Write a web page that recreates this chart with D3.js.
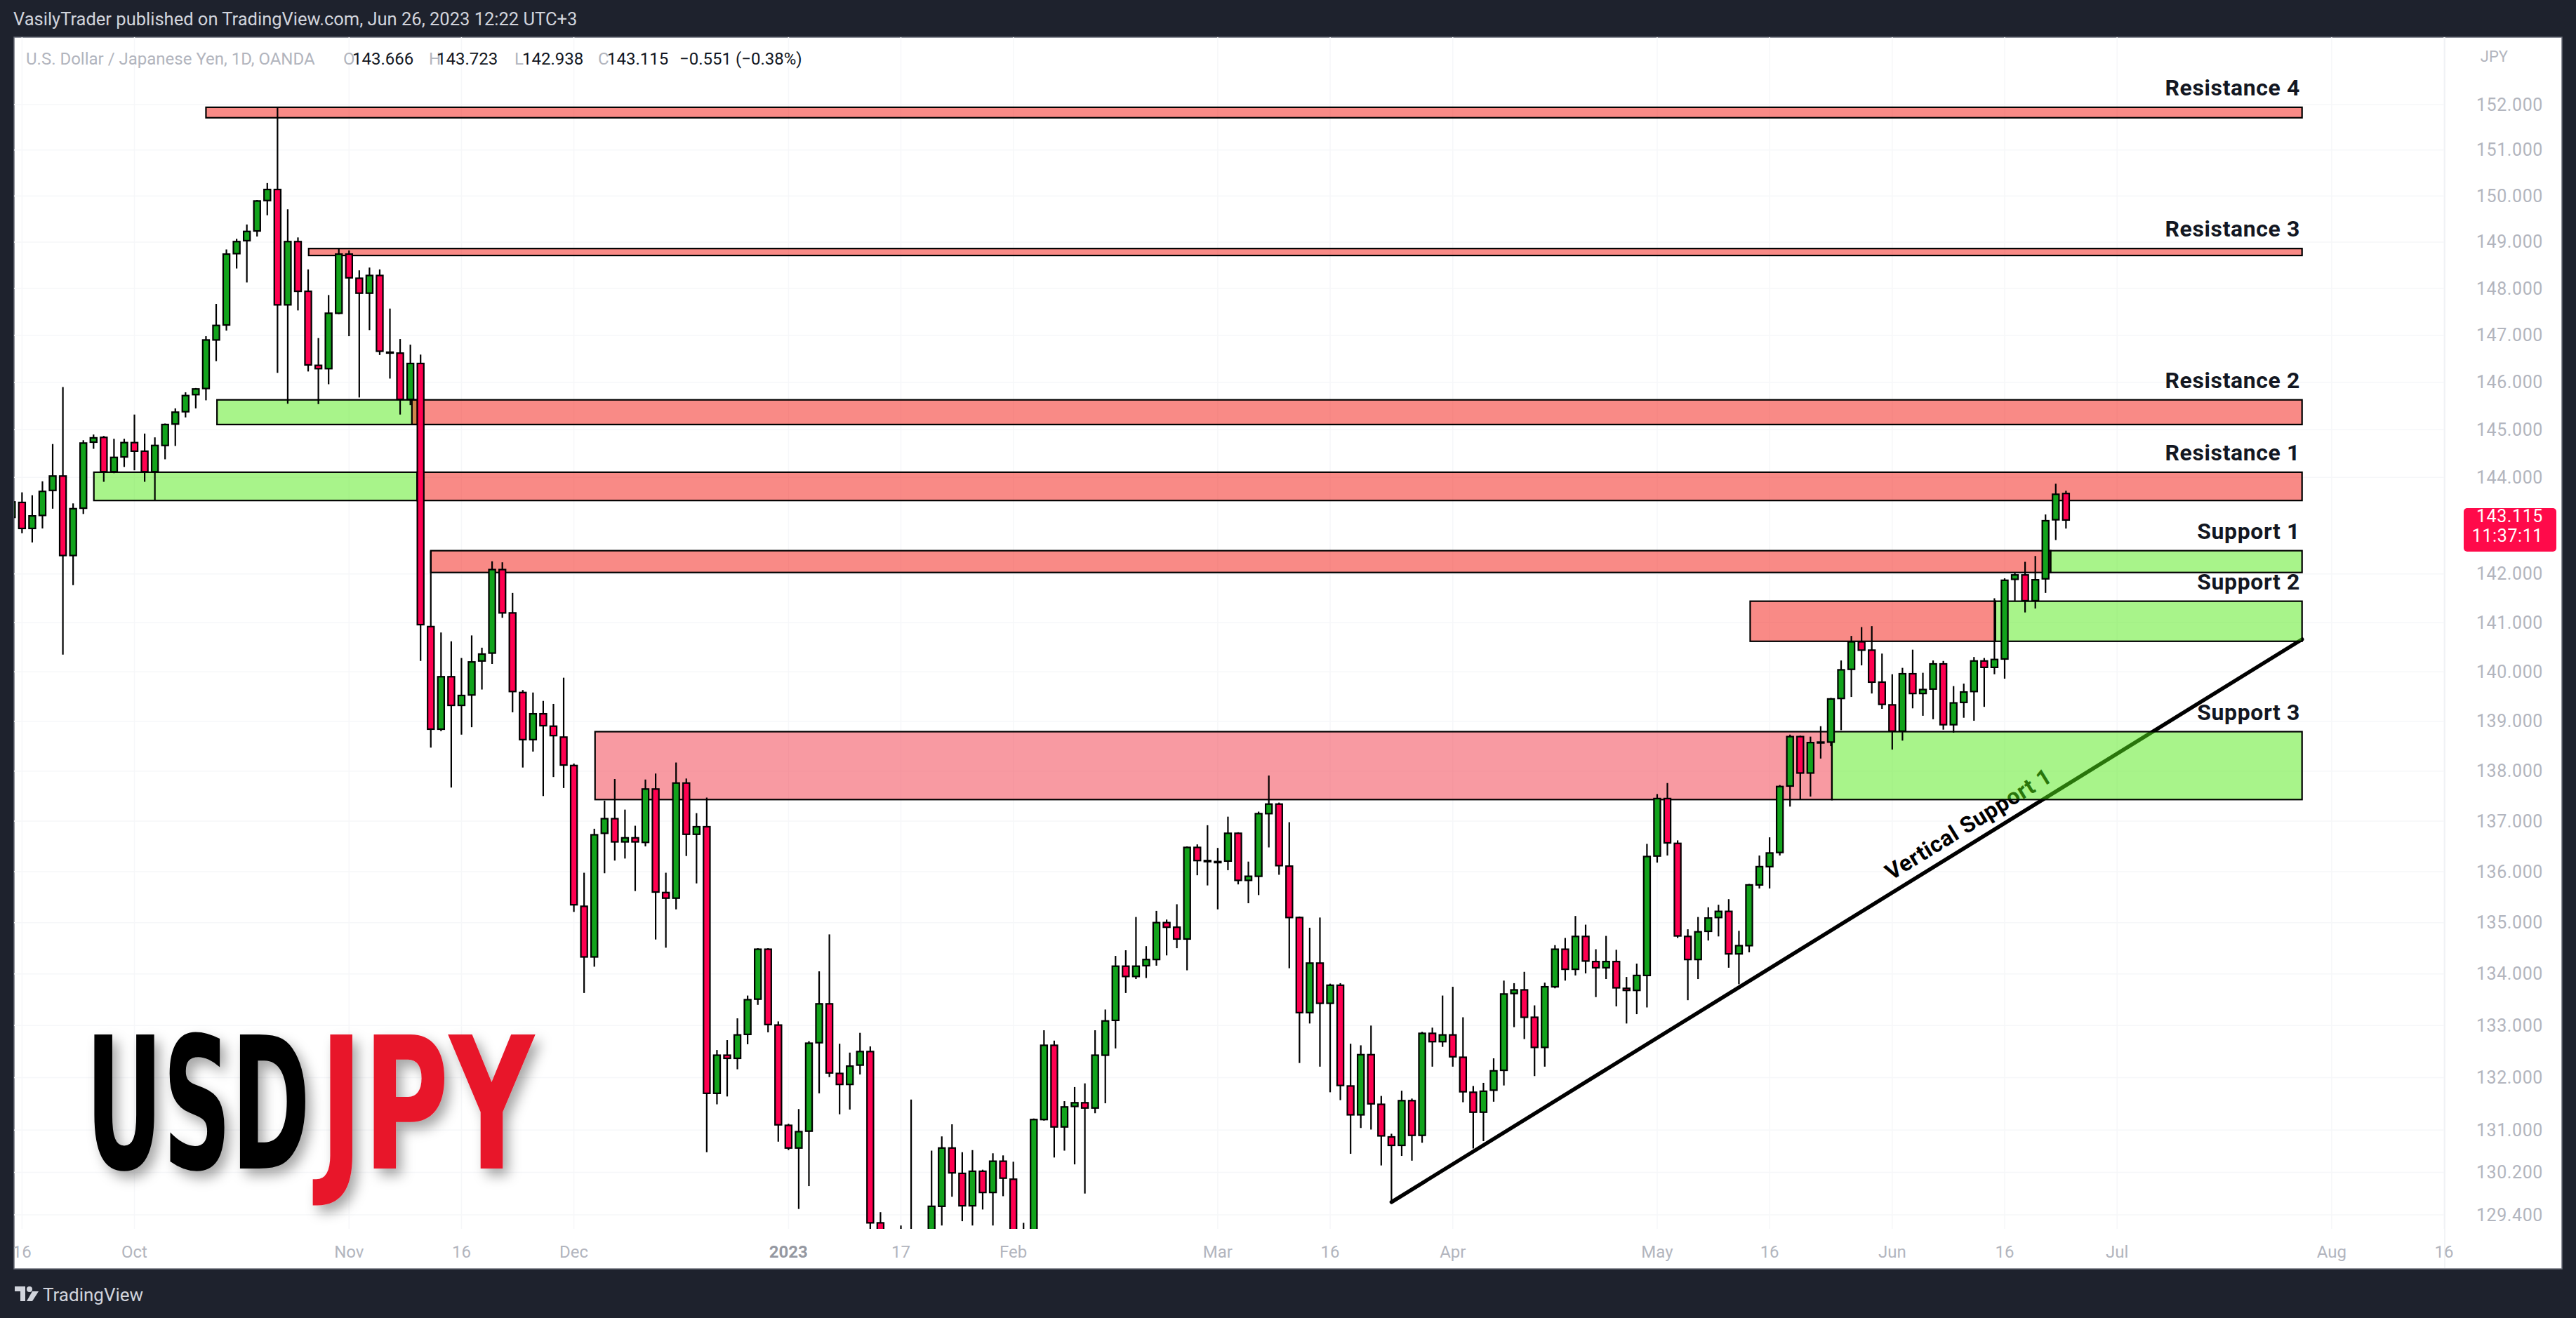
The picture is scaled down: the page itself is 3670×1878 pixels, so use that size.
<!DOCTYPE html>
<html><head><meta charset="utf-8">
<script src="https://cdn.jsdelivr.net/npm/d3@7"></script>
<style>body{margin:0;background:#1e222d;} svg{display:block}</style>
</head><body><svg id="c" width="3670" height="1878"></svg>
<script>
// ---------------- DATA ----------------
const calendarStart = "2022-09-15", calendarEnd = "2023-08-31";
const missingDays = ["2022-12-26"];
const opens = [143.17,143.48,142.94,143.21,143.73,144.03,142.38,143.36,144.74,144.84,144.12,144.43,144.73,144.55,144.12,144.67,145.12,145.38,145.74,145.87,146.90,147.22,148.75,149.03,149.24,149.90,150.14,147.65,149.01,147.94,146.36,146.29,147.47,148.74,148.22,147.90,148.28,146.64,146.62,145.64,146.40,140.92,138.84,139.90,139.32,139.53,140.22,140.38,142.09,141.20,139.58,138.63,139.15,138.90,138.68,138.11,135.32,134.33,136.76,137.05,136.59,136.67,136.58,137.64,135.59,135.48,137.76,136.74,136.89,131.70,132.43,132.37,132.83,133.51,134.48,133.01,131.09,130.66,130.98,132.67,133.42,132.08,131.87,132.24,132.50,129.25,127.90,128.55,128.60,128.90,128.40,129.56,130.66,130.18,129.57,130.22,129.82,130.41,130.07,128.90,128.65,131.20,132.62,131.06,131.45,131.52,131.42,132.43,133.10,134.15,133.95,134.16,134.28,135.00,134.91,134.68,136.48,136.22,136.20,136.21,136.76,135.83,135.91,137.15,137.34,136.11,135.10,133.25,134.21,133.43,133.78,131.84,131.29,132.44,131.49,130.87,130.71,131.56,130.90,132.85,132.69,132.82,132.39,131.72,131.34,131.76,132.14,133.62,133.69,133.16,132.58,133.75,134.48,134.09,134.73,134.24,134.12,134.24,133.72,133.68,133.97,136.31,137.45,136.56,134.73,134.28,134.83,135.10,135.22,134.39,134.55,135.74,136.10,136.38,137.70,138.69,137.96,138.57,138.58,139.46,140.05,140.61,140.44,139.79,139.33,138.80,139.96,139.56,139.65,140.16,138.93,139.38,139.60,140.22,140.09,140.26,141.89,141.98,141.45,141.90,143.12,143.666];
const highs = [143.75,143.69,143.63,143.92,144.70,145.90,143.46,144.78,144.90,144.87,144.81,144.81,145.32,144.92,144.84,145.13,145.45,145.79,145.88,146.98,147.67,148.84,149.07,149.38,149.91,150.28,151.94,149.71,149.10,148.41,146.94,147.86,148.87,148.82,148.39,148.45,148.41,147.57,146.92,146.80,146.59,142.48,140.80,140.62,140.28,140.74,140.49,142.26,142.24,141.61,139.63,139.58,139.41,139.35,139.88,138.15,135.98,136.85,137.41,137.84,137.23,136.91,137.83,137.95,135.98,138.17,137.85,137.16,137.47,132.53,132.72,133.14,133.58,134.50,134.50,133.08,131.12,131.40,132.70,134.05,134.77,132.65,132.48,132.86,132.60,129.45,128.90,129.20,131.58,129.10,130.61,130.88,131.11,130.58,130.62,130.25,130.56,130.52,130.40,129.25,131.22,132.91,132.71,131.55,131.82,131.89,132.91,133.31,134.35,134.46,135.11,134.54,135.23,135.06,135.36,136.50,136.54,136.92,136.47,137.09,136.78,136.20,137.19,137.91,137.37,136.98,135.12,134.90,135.10,133.81,133.82,132.65,132.62,133.00,131.65,130.93,131.75,131.60,132.88,132.96,133.58,133.75,133.16,131.84,131.90,132.37,133.87,133.82,134.04,133.39,133.83,134.56,134.70,135.13,134.96,134.48,134.74,134.47,133.94,134.20,136.55,137.54,137.76,136.62,134.87,135.11,135.30,135.35,135.46,134.84,135.76,136.32,136.68,137.72,138.73,138.71,138.69,138.90,139.47,140.23,140.73,140.91,140.93,140.37,139.95,140.08,140.45,139.98,140.23,140.22,139.71,139.76,140.30,140.28,141.50,141.91,142.02,142.25,142.37,143.23,143.87,143.723];
const lows = [142.90,142.84,142.65,142.94,143.35,140.35,141.77,143.24,144.60,143.91,144.09,144.22,144.15,143.91,143.53,144.38,144.66,145.26,145.45,145.62,146.45,147.10,148.43,148.13,149.12,149.58,146.20,145.55,147.53,146.23,145.54,145.96,147.45,146.98,145.68,147.11,146.58,146.08,145.32,145.52,140.22,138.47,138.80,137.67,138.73,138.88,139.64,140.16,141.10,139.18,138.07,138.39,137.50,137.88,137.66,135.21,133.63,134.14,135.97,136.22,136.26,135.62,136.50,134.67,134.51,135.26,136.31,135.77,130.58,131.49,131.64,132.16,132.64,133.40,132.87,130.78,130.62,129.51,129.94,131.70,132.01,131.30,131.39,132.06,128.86,127.50,127.22,128.00,128.10,127.90,128.30,129.20,129.74,129.28,129.20,129.50,129.20,129.75,128.80,128.08,128.40,131.18,130.48,130.61,130.35,129.80,131.32,131.51,132.56,133.63,133.90,133.92,134.16,134.36,134.50,134.07,135.93,135.73,135.26,136.03,135.75,135.38,135.54,136.48,135.94,134.11,132.28,133.04,132.21,131.72,131.57,130.55,131.04,131.01,130.33,129.64,130.51,130.42,130.76,132.21,132.59,132.21,131.53,130.65,130.79,131.54,131.85,132.97,132.74,132.03,132.21,133.72,133.87,133.97,134.01,133.55,133.90,133.37,133.04,133.22,133.35,136.18,136.32,134.70,133.49,133.90,134.65,134.73,134.12,133.80,134.42,135.67,135.67,136.32,137.29,137.43,137.49,138.25,138.50,138.82,139.49,140.13,139.56,139.25,138.43,138.61,139.26,139.11,139.04,138.83,138.77,139.07,139.01,139.29,139.95,139.86,141.45,141.21,141.29,141.61,142.70,142.938];
const closes = [143.49,142.94,143.20,143.71,144.03,142.38,143.35,144.72,144.83,144.12,144.42,144.73,144.55,144.12,144.67,145.11,145.37,145.72,145.86,146.90,147.21,148.74,149.01,149.23,149.89,150.14,147.65,149.01,147.94,146.37,146.29,147.47,148.74,148.23,147.90,148.28,146.66,146.63,145.64,146.40,140.96,138.84,139.90,139.32,139.52,140.20,140.36,142.09,141.20,139.60,138.63,139.15,138.91,138.71,138.12,135.35,134.33,136.73,137.05,136.59,136.67,136.59,137.64,135.60,135.48,137.76,136.74,136.89,131.70,132.43,132.37,132.82,133.50,134.48,133.02,131.10,130.66,130.97,132.66,133.42,132.09,131.87,132.22,132.50,129.25,127.90,128.55,128.60,128.90,128.40,129.56,130.66,130.19,129.57,130.22,129.82,130.41,130.09,128.90,128.65,131.20,132.62,131.06,131.44,131.52,131.42,132.43,133.09,134.15,133.95,134.15,134.28,135.00,134.91,134.68,136.48,136.22,136.20,136.18,136.76,135.83,135.91,137.15,137.34,136.12,135.10,133.25,134.21,133.43,133.78,131.85,131.29,132.44,131.50,130.89,130.71,131.56,130.90,132.85,132.69,132.82,132.40,131.73,131.34,131.74,132.13,133.61,133.69,133.16,132.58,133.75,134.48,134.09,134.73,134.25,134.12,134.24,133.73,133.68,133.97,136.30,137.45,136.57,134.74,134.28,134.82,135.09,135.22,134.39,134.55,135.74,136.10,136.37,137.69,138.69,137.96,138.57,138.58,139.45,140.04,140.61,140.44,139.79,139.34,138.80,139.96,139.56,139.64,140.16,138.93,139.37,139.59,140.22,140.09,140.25,141.87,141.98,141.45,141.88,143.10,143.65,143.115];

const priceTicks = [152,151,150,149,148,147,146,145,144,142,141,140,139,138,137,136,135,134,133,132,131,130.2,129.4];
const timeTickDates = ["2022-09-16","2022-10-03","2022-11-01","2022-11-16","2022-12-01","2023-01-02","2023-01-17","2023-02-01","2023-03-01","2023-03-16","2023-04-03","2023-05-01","2023-05-16","2023-06-01","2023-06-16","2023-07-03","2023-08-01","2023-08-16"];
const timeTickLabels = ["16","Oct","Nov","16","Dec","2023","17","Feb","Mar","16","Apr","May","16","Jun","16","Jul","Aug","16"];

// zones: bar-index start/end, price top/bottom, kind
const zoneStart  = [19.0, 29.05, 20.08, 39.15, 8.03, 39.67, 41.0, 199.5, 170.1, 194.1, 57.07, 178.1];
const zoneEnd    = [224.1,224.1, 39.67, 224.1, 39.67,224.1, 199.5,224.1, 194.1, 224.1, 178.1, 224.1];
const zoneTop    = [151.94,148.86,145.63,145.63,144.11,144.11,142.48,142.48,141.44,141.44,138.79,138.79];
const zoneBottom = [151.71,148.71,145.11,145.11,143.52,143.52,142.03,142.03,140.62,140.62,137.43,137.43];
const zoneKind   = ["res","res","sup","res","sup","res","res","sup","res","sup","pink","sup"];

const levelLabels = ["Resistance 4","Resistance 3","Resistance 2","Resistance 1","Support 1","Support 2","Support 3"];
const levelLabelZone = [0,1,3,5,7,9,11];

const trendIdx = [135, 224.1];
const trendPrice = [129.64, 140.66];
const trendText = "Vertical Support 1";

const lastPrice = 143.115, countdown = "11:37:11";
const legendTitle = "U.S. Dollar / Japanese Yen, 1D, OANDA";
const legendO = "143.666", legendH = "143.723", legendL = "142.938", legendC = "143.115", legendChg = "\u22120.551 (\u22120.38%)";

// ---------------- CHART ----------------
function buildCalendar(start, end, skip){
  const out=[]; const d=new Date(start+"T00:00:00Z"); const e=new Date(end+"T00:00:00Z");
  while(d<=e){ const wd=d.getUTCDay(); const s=d.toISOString().slice(0,10);
    if(wd!==0 && wd!==6 && !skip.includes(s)) out.push(s); d.setUTCDate(d.getUTCDate()+1); }
  return out;
}
const cal = buildCalendar(calendarStart, calendarEnd, missingDays);
const candles = opens.map((o,i)=>({i, o, h:highs[i], l:lows[i], c:closes[i]}));

const W=3670,H=1878;
const pane = {x0:20, x1:3483, y0:53, y1:1751};
const x = d3.scaleLinear().domain([0,1]).range([16.8, 16.8+14.56]);
const y = d3.scaleLog().domain([129.4,152]).range([1731,149]);

const svg = d3.select("#c");
const defs = svg.append("defs");
defs.append("clipPath").attr("id","pane").append("rect")
  .attr("x",pane.x0).attr("y",pane.y0).attr("width",pane.x1-pane.x0).attr("height",pane.y1-pane.y0);
const f = defs.append("filter").attr("id","sh").attr("x","-20%").attr("y","-20%").attr("width","140%").attr("height","140%");
f.append("feDropShadow").attr("dx",8).attr("dy",10).attr("stdDeviation",9).attr("flood-color","#000").attr("flood-opacity",0.35);

const UI = "Roboto, 'Liberation Sans', sans-serif";

svg.append("rect").attr("width",W).attr("height",H).attr("fill","#1e222d");
svg.append("text").attr("x",19).attr("y",36).attr("fill","#d1d4dc").attr("font-family",UI).attr("font-size",25.5)
  .text("VasilyTrader published on TradingView.com, Jun 26, 2023 12:22 UTC+3");
svg.append("rect").attr("x",20).attr("y",53).attr("width",3630).attr("height",1755).attr("fill","#ffffff")
  .attr("stroke","#6a6d78").attr("stroke-width",1.5);

// grid
const grid = svg.append("g").attr("clip-path","url(#pane)");
grid.selectAll("line.h").data(priceTicks).join("line").attr("x1",pane.x0).attr("x2",pane.x1)
  .attr("y1",d=>y(d)).attr("y2",d=>y(d)).attr("stroke","#f6f7f9").attr("stroke-width",1.5);
grid.selectAll("line.v").data(timeTickDates).join("line").attr("y1",pane.y0).attr("y2",pane.y1)
  .attr("x1",d=>x(cal.indexOf(d))).attr("x2",d=>x(cal.indexOf(d))).attr("stroke","#f6f7f9").attr("stroke-width",1.5);
svg.append("line").attr("x1",pane.x1).attr("x2",pane.x1).attr("y1",pane.y0).attr("y2",1807).attr("stroke","#eef0f3").attr("stroke-width",1.5);

const plot = svg.append("g").attr("clip-path","url(#pane)");

// trendline (under zones)
plot.append("line").attr("x1",x(trendIdx[0])).attr("y1",y(trendPrice[0])).attr("x2",x(trendIdx[1])).attr("y2",y(trendPrice[1]))
  .attr("stroke","#000").attr("stroke-width",5.5).attr("stroke-linecap","round");
{
  const xa=x(trendIdx[0]), ya=y(trendPrice[0]), xb=x(trendIdx[1]), yb=y(trendPrice[1]);
  const ang = Math.atan2(yb-ya, xb-xa)*180/Math.PI;
  const tx = 2818, t=(tx-xa)/(xb-xa), ty = ya+(yb-ya)*t;
  plot.append("text").attr("transform",`translate(${tx},${ty}) rotate(${ang}) translate(0,-15)`)
    .attr("text-anchor","middle").attr("font-family",UI).attr("font-weight",700).attr("font-size",32)
    .attr("letter-spacing",0.6).attr("fill","#000").text(trendText);
}

const zoneFill = {res:"rgba(243,22,14,0.5)", pink:"rgba(242,54,69,0.5)", sup:"rgba(82,233,22,0.5)"};
plot.selectAll("rect.zone").data(zoneStart.map((s,k)=>k)).join("rect")
  .attr("x",k=>x(zoneStart[k])).attr("width",k=>x(zoneEnd[k])-x(zoneStart[k]))
  .attr("y",k=>y(zoneTop[k])).attr("height",k=>y(zoneBottom[k])-y(zoneTop[k]))
  .attr("fill",k=>zoneFill[zoneKind[k]]).attr("stroke","#000").attr("stroke-width",2.2);

// candles
const cg = plot.append("g");
cg.selectAll("line.w").data(candles).join("line")
  .attr("x1",d=>x(d.i)).attr("x2",d=>x(d.i)).attr("y1",d=>y(d.h)).attr("y2",d=>y(d.l))
  .attr("stroke","#000").attr("stroke-width",2.2);
cg.selectAll("rect.b").data(candles).join("rect")
  .attr("x",d=>x(d.i)-4.6).attr("width",9.2)
  .attr("y",d=>y(Math.max(d.o,d.c)))
  .attr("height",d=>Math.max(1.2, y(Math.min(d.o,d.c))-y(Math.max(d.o,d.c))))
  .attr("fill",d=>d.c>=d.o?"#12a31c":"#ff0050").attr("stroke","#000").attr("stroke-width",2.2);

// level labels
svg.selectAll("text.lvl").data(levelLabels).join("text")
  .attr("x",3277).attr("y",(d,k)=>y(zoneTop[levelLabelZone[k]])-17)
  .attr("text-anchor","end").attr("font-family",UI).attr("font-weight",700).attr("font-size",32)
  .attr("letter-spacing",0.6).attr("fill","#131722")
  .text(d=>d);

// USDJPY (horizontally condensed by scale so bounding boxes stay honest)
const big = svg.append("g").attr("filter","url(#sh)");
function bigWord(txt, x0, width, color){
  const t = big.append("text").attr("x",0).attr("y",0)
    .attr("font-family","'Liberation Sans Narrow', 'DejaVu Sans Condensed', sans-serif")
    .attr("font-weight",700).attr("font-size",262).attr("fill",color).text(txt);
  const w = t.node().getComputedTextLength();
  t.attr("transform",`translate(${x0},1665) scale(${width/w},1)`);
}
bigWord("USD",122,320,"#000");
bigWord("JPY",455,306,"#e8192c");

// price axis
svg.append("text").attr("x",3573).attr("y",88).attr("text-anchor","end").attr("font-family",UI).attr("font-size",22).attr("fill","#b2b5be").text("JPY");
svg.selectAll("text.pt").data(priceTicks).join("text")
  .attr("x",3623).attr("y",d=>y(d)+8.5).attr("text-anchor","end").attr("font-family",UI).attr("font-size",25)
  .attr("letter-spacing",0.6).attr("fill","#b2b5be").text(d=>d.toFixed(3));
svg.append("rect").attr("x",3510).attr("y",y(lastPrice)-17).attr("width",132).attr("height",62).attr("rx",5).attr("fill","#ff0a4a");
svg.append("text").attr("x",3623).attr("y",y(lastPrice)+3).attr("text-anchor","end").attr("font-family",UI).attr("font-size",25)
  .attr("letter-spacing",0.6).attr("fill","#fff").text(lastPrice.toFixed(3));
svg.append("text").attr("x",3623).attr("y",y(lastPrice)+31).attr("text-anchor","end").attr("font-family",UI).attr("font-size",25)
  .attr("letter-spacing",0.6).attr("fill","#fff").text(countdown);

// time axis
defs.append("clipPath").attr("id","tclip").append("rect").attr("x",20).attr("y",1751).attr("width",3630).attr("height",56);
const tax = svg.append("g").attr("clip-path","url(#tclip)");
tax.selectAll("text").data(timeTickDates).join("text")
  .attr("x",d=>x(cal.indexOf(d))).attr("y",1792).attr("text-anchor","middle").attr("font-family",UI).attr("font-size",24)
  .attr("font-weight",(d,k)=>timeTickLabels[k]==="2023"?700:400)
  .attr("fill",(d,k)=>timeTickLabels[k]==="2023"?"#9598a1":"#b2b5be").text((d,k)=>timeTickLabels[k]);

// legend
const lg = svg.append("g").attr("font-family",UI).attr("font-size",24);
lg.append("text").attr("x",37).attr("y",92).attr("fill","#b2b5be").text(legendTitle);
[["O",489,legendO,502],["H",611,legendH,622],["L",733,legendL,744],["C",852,legendC,865]].forEach(r=>{
  lg.append("text").attr("x",r[1]).attr("y",92).attr("fill","#b2b5be").text(r[0]);
  lg.append("text").attr("x",r[3]).attr("y",92).attr("fill","#131722").text(r[2]);
});
lg.append("text").attr("x",968).attr("y",92).attr("fill","#131722").text(legendChg);

// footer logo
const lo = svg.append("g").attr("fill","#d1d4dc");
lo.append("path").attr("d","M21 1833 h15 v21 h-7 v-14 h-8 z");
lo.append("circle").attr("cx",42).attr("cy",1837).attr("r",4);
lo.append("path").attr("d","M46 1840 h9 l-9 14 h-8 z");
svg.append("text").attr("x",61).attr("y",1854).attr("font-family",UI).attr("font-size",26).attr("fill","#d1d4dc").text("TradingView");
</script></body></html>
